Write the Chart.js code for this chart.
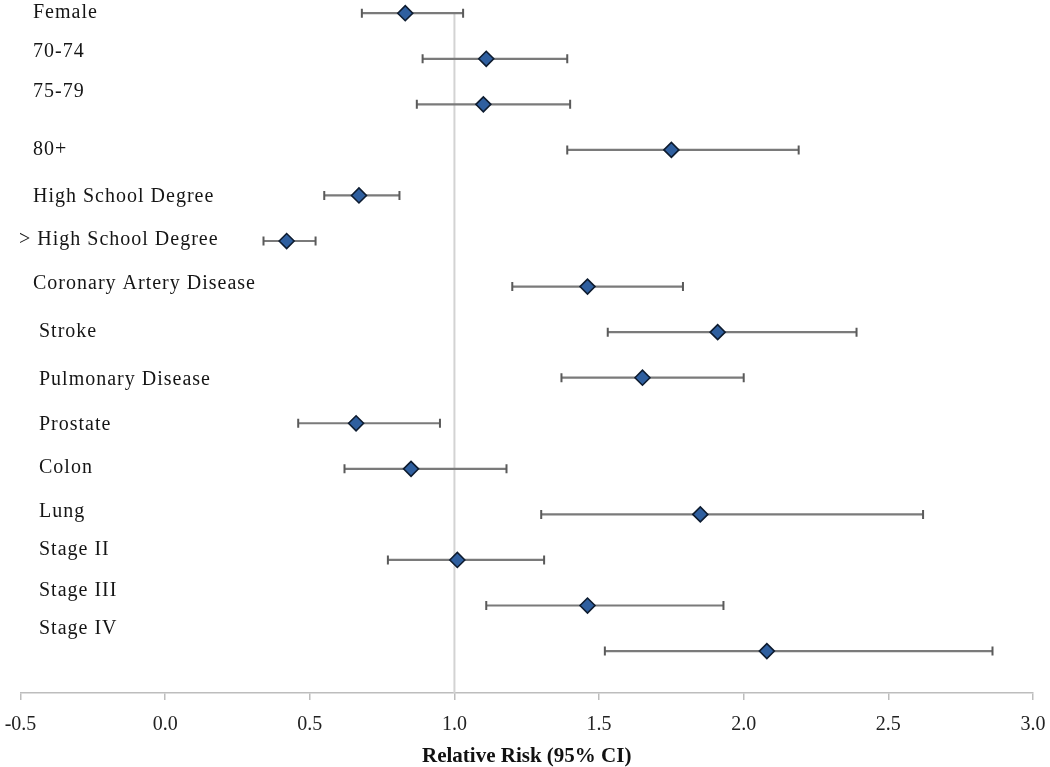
<!DOCTYPE html>
<html>
<head>
<meta charset="utf-8">
<script src="https://cdn.jsdelivr.net/npm/chart.js@4/dist/chart.umd.min.js"></script>
<style>
  html, body { margin: 0; padding: 0; background: #fff; }
  #wrap { width: 1050px; height: 767px; position: relative; }
</style>
</head>
<body>
<div id="wrap"><canvas id="chartRR"></canvas></div>
<script>
const factores = [
    'Female', '70-74', '75-79', '80+', 'High School Degree', '> High School Degree',
    'Coronary Artery Disease', 'Stroke', 'Pulmonary Disease', 'Prostate', 'Colon',
    'Lung', 'Stage II', 'Stage III', 'Stage IV'
];
const riesgo   = [0.83, 1.11, 1.10, 1.75, 0.67, 0.42, 1.46, 1.91, 1.65, 0.66, 0.85, 1.85, 1.01, 1.46, 2.08];
const ciInf    = [0.68, 0.89, 0.87, 1.39, 0.55, 0.34, 1.20, 1.53, 1.37, 0.46, 0.62, 1.30, 0.77, 1.11, 1.52];
const ciSup    = [1.03, 1.39, 1.40, 2.19, 0.81, 0.52, 1.79, 2.39, 2.00, 0.95, 1.18, 2.62, 1.31, 1.93, 2.86];
const ticksX   = [-0.5, 0.0, 0.5, 1.0, 1.5, 2.0, 2.5, 3.0];
const valorRef = 1.0;
const tituloX  = 'Relative Risk (95% CI)';

const FUENTE = "'Liberation Serif', 'Times New Roman', serif";

// pequeños ajustes de maquetación de las etiquetas (px), como en la figura original
const etiquetaDx = [33, 33, 33, 33, 33, 19, 33, 39, 39, 39, 39, 39, 39, 39, 39];
const etiquetaDy = [0, -7, -13, 0, 1, -1, -3, 0, 2, 1, -1, -3, -10, -15, -22];

const pluginBarras = {
    id: 'barrasError',
    beforeDatasetsDraw(chart) {
        const { ctx, scales: { x, y }, chartArea } = chart;
        ctx.save();

        // linea de referencia en RR = 1
        const xr = x.getPixelForValue(valorRef);
        ctx.strokeStyle = '#d3d3d3';
        ctx.lineWidth = 2;
        ctx.beginPath();
        ctx.moveTo(xr, y.getPixelForValue(0));
        ctx.lineTo(xr, chartArea.bottom);
        ctx.stroke();

        // intervalos de confianza
        riesgo.forEach((_, i) => {
            const py = y.getPixelForValue(i);
            const x1 = x.getPixelForValue(ciInf[i]);
            const x2 = x.getPixelForValue(ciSup[i]);
            ctx.strokeStyle = '#7a7a7a';
            ctx.lineWidth = 2.2;
            ctx.beginPath();
            ctx.moveTo(x1, py);
            ctx.lineTo(x2, py);
            ctx.stroke();
            ctx.strokeStyle = '#5a5a5a';
            ctx.lineWidth = 2;
            ctx.beginPath();
            ctx.moveTo(x1, py - 4.5);
            ctx.lineTo(x1, py + 4.5);
            ctx.moveTo(x2, py - 4.5);
            ctx.lineTo(x2, py + 4.5);
            ctx.stroke();
        });
        ctx.restore();
    },
    afterDatasetsDraw(chart) {
        const { ctx, scales: { y } } = chart;
        ctx.save();
        ctx.font = `20px ${FUENTE}`;
        ctx.fillStyle = '#151515';
        ctx.textBaseline = 'middle';
        ctx.textAlign = 'left';
        if ('letterSpacing' in ctx) ctx.letterSpacing = '1px';
        factores.forEach((nombre, i) => {
            ctx.fillText(nombre, etiquetaDx[i], y.getPixelForValue(i) + etiquetaDy[i]);
        });
        ctx.restore();
    }
};

new Chart(document.getElementById('chartRR'), {
    type: 'scatter',
    data: {
        datasets: [{
            data: riesgo.map((v, i) => ({ x: v, y: i })),
            pointStyle: 'rectRot',
            pointRadius: 7.5,
            pointBackgroundColor: '#2f5f9f',
            pointBorderColor: '#0e1c30',
            pointBorderWidth: 1.6,
            showLine: false
        }]
    },
    options: {
        responsive: true,
        maintainAspectRatio: false,
        animation: false,
        layout: { autoPadding: false, padding: { left: 20.5, right: 17, top: 0, bottom: 0 } },
        plugins: {
            legend: { display: false },
            tooltip: { enabled: false }
        },
        scales: {
            x: {
                type: 'linear',
                min: ticksX[0],
                max: ticksX[ticksX.length - 1],
                afterBuildTicks: (scale) => {
                    scale.ticks = ticksX.map(v => ({ value: v }));
                },
                afterFit: (scale) => {
                    scale.height = 74;
                    scale.paddingLeft = 0;
                    scale.paddingRight = 0;
                },
                ticks: {
                    padding: 13,
                    color: '#222',
                    font: { family: FUENTE, size: 20 },
                    callback: (v) => Number(v).toFixed(1)
                },
                grid: {
                    drawOnChartArea: false,
                    tickLength: 7,
                    color: '#bdbdbd',
                    lineWidth: 1.5
                },
                border: { color: '#bdbdbd', width: 1.5 },
                title: {
                    display: true,
                    text: tituloX,
                    color: '#111',
                    font: { family: FUENTE, size: 21, weight: 'bold', lineHeight: 1 },
                    padding: { top: 0, bottom: 0 }
                }
            },
            y: {
                type: 'linear',
                display: false,
                reverse: true,
                min: -0.29,
                max: 14.92
            }
        }
    },
    plugins: [pluginBarras]
});
</script>
</body>
</html>
